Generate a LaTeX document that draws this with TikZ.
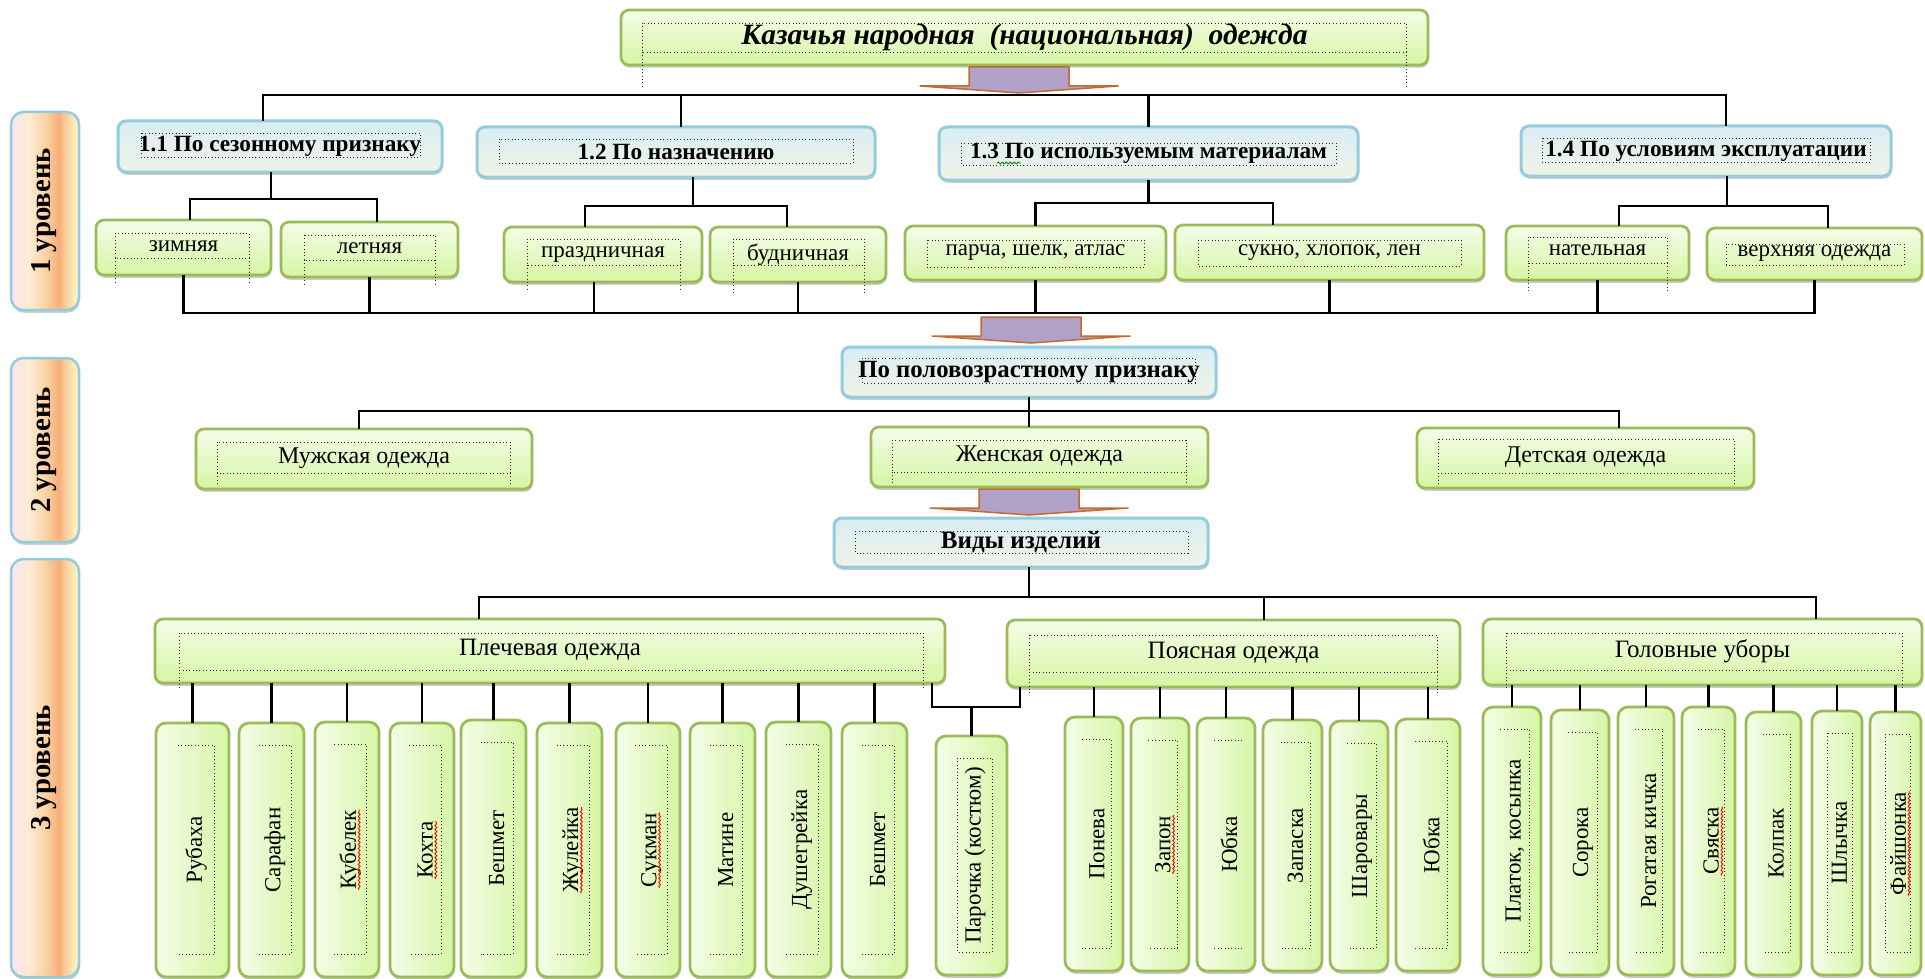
\documentclass[tikz,border=0pt]{standalone}
\usepackage{fontspec}
\setmainfont{Liberation Serif}
\usetikzlibrary{shadows,calc,decorations.pathmorphing}

\definecolor{gborder}{HTML}{9BBB59}
\definecolor{gtop}{HTML}{F4FDE8}
\definecolor{gbot}{HTML}{D6F5A4}
\definecolor{bborder}{HTML}{93CDDD}
\definecolor{btop}{HTML}{D9EDF3}
\definecolor{bbot}{HTML}{F0F3E6}
\definecolor{arfill}{HTML}{B1A0C7}
\definecolor{arline}{HTML}{C46A2C}
\definecolor{lpink}{HTML}{FDE4EC}
\definecolor{lcream}{HTML}{FDEBD6}
\definecolor{lpeach}{HTML}{FBD3A4}
\definecolor{lorange}{HTML}{F8AE78}
\definecolor{lyellow}{HTML}{FEEDBF}

\pgfdeclarehorizontalshading{lvlshade}{100bp}{color(0bp)=(lpink); color(25bp)=(lpink); color(38bp)=(lcream); color(50bp)=(lpeach); color(60bp)=(lorange); color(66bp)=(lpeach); color(72bp)=(lyellow); color(75bp)=(lyellow); color(100bp)=(lyellow)}

\newcommand\fsz[1]{\fontsize{#1pt}{#1pt}\selectfont}

\tikzset{
 shd/.style={drop shadow={shadow xshift=0.3pt, shadow yshift=-1.1pt, fill=black!45, opacity=0.45}},
 gbox/.style={draw=gborder, line width=1.1pt, rounded corners=3.2pt, top color=gtop, bottom color=gbot, shd, inner sep=0pt, outer sep=0pt, font=\fsz{9.2}},
 bbox/.style={draw=bborder, line width=1.2pt, rounded corners=3.2pt, top color=btop, bottom color=bbot, shd, inner sep=0pt, outer sep=0pt, font=\fsz{9.3}\bfseries},
 ibox/.style={draw=gborder, line width=1.1pt, rounded corners=4pt, left color=gtop, right color=gbot, shd, inner sep=0pt, outer sep=0pt},
 lvl/.style={draw=bborder, line width=1pt, rounded corners=5pt, shade, shading=lvlshade, shd, inner sep=0pt, outer sep=0pt},
 lvltxt/.style={rotate=90, font=\fsz{11.5}\bfseries, inner sep=0pt},
 conn/.style={line width=1.1pt, black},
 frm/.style={densely dotted, line width=0.35pt, black!85},
 arr/.style={fill=arfill, draw=arline, line width=0.6pt, line join=round},
 itxt/.style={rotate=90, inner sep=0pt, font=\fsz{9.2}},
 wavy/.style={red, line width=0.35pt, decorate, decoration={snake, amplitude=0.35pt, segment length=1.6pt}},
}

% style, name, x1, y1, x2, y2, text
\newcommand\bx[7]{\node[#1, minimum width={(#5-#3)*0.4pt}, minimum height={(#6-#4)*0.4pt}] (#2) at ({(#3+#5)/2},{(#4+#6)/2}) {#7};}
\newcommand\fra[4]{\draw[frm] (#1,#2) rectangle (#3,#4);}
\newcommand\frx[5]{\draw[frm] (#1,#2) rectangle (#3,#4) (#1,#4) -- (#1,#5) (#3,#4) -- (#3,#5);}
% name, x1, x2, top, bottom, text, frame type
\newcommand\itm[7]{%
 \bx{ibox}{#1}{#2}{#4}{#3}{#5}{}%
 \pgfmathsetmacro\ql{#2+0.3*(#3-#2)}%
 \pgfmathsetmacro\qr{#3-0.2*(#3-#2)}%
 \pgfmathsetmacro\qt{#4+22}%
 \pgfmathsetmacro\qb{#5-23}%
 \pgfmathsetmacro\qc{(\ql+\qr)/2}%
 \ifcase#7 \draw[frm] (\ql,\qt) -- (\qr,\qt) -- (\qr,\qb) -- (\ql,\qb);
 \or \draw[frm] (\ql,\qt) rectangle (\qr,\qb);
 \or \draw[frm] (\ql,\qt) -- (\qr,\qt) (\ql,\qb) -- (\qr,\qb);
 \fi
 \node[itxt] (#1t) at (\qc,{(#4+#5)/2}) {#6};}
\newcommand\wav[1]{\draw[wavy] ([xshift=1.3pt]#1t.base west) -- ([xshift=1.3pt]#1t.base east);}
% name, cx, ytop
\newcommand\barrow[3]{\coordinate (#1) at (#2,#3);
 \draw[arr] ($(#1)+(-50,0)$) -- ++(100,0) -- ++(0,19) -- ++(49,0) -- ($(#1)+(0,26)$) -- ($(#1)+(-99,19)$) -- ++(49,0) -- cycle;}
% parent, bus y, left child, right child
\newcommand\fork[4]{\coordinate (fk) at (0,#2);
 \draw[conn] (#1) -- (#1 |- fk);
 \draw[conn] (#3) -- (#3 |- fk) -- (#4 |- fk) -- (#4);}

\begin{document}
\begin{tikzpicture}[x=0.4pt,y=-0.4pt]
\useasboundingbox (0,0) rectangle (1925,979);
\fill[white] (0,0) rectangle (1925,979);

% level labels
\bx{lvl}{L1}{11}{112}{79}{310}{}
\node[lvltxt] (L1t) at (44,211) {1 уровень};
\bx{lvl}{L2}{11}{358}{79}{542}{}
\node[lvltxt] (L2t) at (44,450) {2 уровень};
\bx{lvl}{L3}{11}{559}{79}{977}{}
\node[lvltxt] (L3t) at (44,768) {3 уровень};

% title
\bx{gbox}{title}{621}{10}{1428}{65}{\raisebox{-1.5pt}{\fsz{11.8}\bfseries\itshape Казачья народная\ \ (национальная)\ \ одежда}}

% level 1 headings
\bx{bbox}{p11}{118}{121}{442}{172}{1.1 По сезонному признаку}
\bx{bbox}{p12}{477}{127}{875}{177}{1.2 По назначению}
\bx{bbox}{p13}{939}{127}{1358}{180}{1.3 По используемым материалам}
\bx{bbox}{p14}{1521}{126}{1891}{176}{1.4 По условиям эксплуатации}

% level 1 children
\bx{gbox}{zim}{96}{220}{271}{275}{\raisebox{1pt}{зимняя}}
\bx{gbox}{let}{281}{222}{458}{277}{\raisebox{1pt}{летняя}}
\bx{gbox}{pra}{504}{227}{702}{282}{\raisebox{1pt}{праздничная}}
\bx{gbox}{bud}{710}{227}{886}{282}{\raisebox{1pt}{будничная}}
\bx{gbox}{parch}{905}{226}{1166}{280}{парча, шелк, атлас}
\bx{gbox}{suk}{1175}{225}{1484}{280}{сукно, хлопок, лен}
\bx{gbox}{nat}{1506}{226}{1689}{280}{\raisebox{2pt}{нательная}}
\bx{gbox}{ver}{1707}{228}{1922}{280}{верхняя одежда}

% level 2
\bx{bbox}{pol}{842}{347}{1216}{397}{\fsz{9.9}\bfseries По половозрастному признаку}
\bx{gbox}{muz}{196}{429}{532}{489}{\raisebox{2.5pt}{\fsz{9.6}Мужская одежда}}
\bx{gbox}{zhen}{871}{427}{1208}{487}{\raisebox{2.5pt}{\fsz{9.6}Женская одежда}}
\bx{gbox}{det}{1417}{428}{1754}{488}{\raisebox{2.5pt}{\fsz{9.6}Детская одежда}}
\bx{bbox}{vid}{834}{518}{1208}{567}{\fsz{10}\bfseries Виды изделий}

% level 3 headers
\bx{gbox}{ple}{155}{619}{945}{683}{\raisebox{2.8pt}{\fsz{10}Плечевая одежда}}
\bx{gbox}{poy}{1007}{620}{1460}{687}{\raisebox{2.8pt}{\fsz{10}Поясная одежда}}
\bx{gbox}{gol}{1483}{619}{1922}{685}{\raisebox{2.8pt}{\fsz{10}Головные уборы}}

% items
\itm{s1}{156}{229}{723}{977}{Рубаха}{0}
\itm{s2}{239}{304}{723}{977}{Сарафан}{0}
\itm{s3}{315}{379}{722}{977}{Кубелек}{0}
\itm{s4}{390}{454}{723}{977}{Кохта}{0}
\itm{s5}{461}{526}{720}{977}{Бешмет}{0}
\itm{s6}{537}{602}{723}{977}{Жулейка}{0}
\itm{s7}{616}{680}{723}{977}{Сукман}{0}
\itm{s8}{690}{755}{723}{977}{Матине}{0}
\itm{s9}{766}{831}{722}{977}{Душегрейка}{0}
\itm{s10}{842}{907}{723}{977}{Бешмет}{0}
\itm{paro}{936}{1007}{736}{975}{Парочка (костюм)}{1}
\itm{b1}{1065}{1123}{717}{971}{Понева}{0}
\itm{b2}{1131}{1189}{718}{971}{Запон}{0}
\itm{b3}{1197}{1255}{718}{971}{Юбка}{2}
\itm{b4}{1263}{1322}{720}{971}{Запаска}{0}
\itm{b5}{1330}{1388}{721}{971}{Шаровары}{0}
\itm{b6}{1396}{1460}{719}{971}{Юбка}{0}
\itm{h1}{1483}{1541}{707}{975}{Платок, косынка}{0}
\itm{h2}{1551}{1609}{710}{975}{Сорока}{0}
\itm{h3}{1618}{1674}{707}{975}{Рогатая кичка}{0}
\itm{h4}{1682}{1735}{707}{975}{Свяска}{0}
\itm{h5}{1746}{1801}{712}{975}{Колпак}{0}
\itm{h6}{1812}{1862}{711}{975}{Шлычка}{1}
\itm{h7}{1870}{1921}{712}{975}{Файшонка}{1}
\foreach \n in {s3,s4,s6,s7,b2,h4,h7} {\wav{\n}}
\draw[wavy, green!55!black] (997,163) -- (1021,163);

% dotted text frames
\frx{642}{23}{1406}{52}{88}
\fra{141}{133}{420}{157}
\fra{499}{139}{853}{163}
\fra{961}{143}{1336}{165}
\fra{1542}{138}{1870}{162}
\frx{115}{233}{249}{258}{285}
\frx{304}{235}{435}{260}{287}
\frx{527}{239}{680}{265}{292}
\frx{733}{239}{864}{265}{293}
\fra{927}{240}{1144}{267}
\fra{1198}{240}{1461}{266}
\frx{1528}{237}{1667}{263}{293}
\fra{1726}{244}{1904}{265}
\fra{862}{358}{1195}{383}
\frx{217}{442}{510}{473}{484}
\frx{892}{440}{1186}{472}{485}
\frx{1438}{439}{1734}{473}{485}
\fra{855}{531}{1188}{553}
\frx{179}{633}{923}{670}{690}
\frx{1029}{635}{1437}{672}{693}
\frx{1506}{633}{1902}{670}{690}

% connectors level 1
\coordinate (bus1) at (0,95);
\coordinate (c11t) at ([xshift=-6.8pt]p11.north);
\coordinate (c14t) at ([xshift=8pt]p14.north);
\draw[conn] (c11t) -- (c11t |- bus1) -- (c14t |- bus1) -- (c14t);
\coordinate (c12t) at ([xshift=2pt]p12.north);
\draw[conn] (c12t) -- (c12t |- bus1);
\draw[conn] (p13.north) -- (p13.north |- bus1);

\coordinate (a11) at ([xshift=-3.6pt]p11.south);
\coordinate (zimT) at ([xshift=2.6pt]zim.north);
\coordinate (letT) at ([xshift=3pt]let.north);
\fork{a11}{199}{zimT}{letT}
\coordinate (a12) at ([xshift=6.8pt]p12.south);
\coordinate (praT) at ([xshift=-7.2pt]pra.north);
\coordinate (budT) at ([xshift=-4.4pt]bud.north);
\fork{a12}{206}{praT}{budT}
\coordinate (sukT) at ([xshift=-22.6pt]suk.north);
\fork{p13.south}{203}{parch.north}{sukT}
\coordinate (a14) at ([xshift=8.4pt]p14.south);
\coordinate (natT) at ([xshift=8.6pt]nat.north);
\coordinate (verT) at ([xshift=5.4pt]ver.north);
\fork{a14}{206}{natT}{verT}

\coordinate (bus2) at (0,313);
\coordinate (praB) at ([xshift=-3.6pt]pra.south);
\draw[conn] (zim.south) -- (zim.south |- bus2) -- (ver.south |- bus2) -- (ver.south);
\foreach \n in {let.south, praB, bud.south, parch.south, suk.south, nat.south} {\draw[conn] (\n) -- (\n |- bus2);}

% level 2
\draw[conn] (pol.south) -- (pol.south |- zhen.north);
\coordinate (bus3) at (0,411);
\coordinate (muzT) at ([xshift=-2pt]muz.north);
\coordinate (detT) at ([xshift=13.4pt]det.north);
\draw[conn] (muzT) -- (muzT |- bus3) -- (detT |- bus3) -- (detT);

% level 3
\coordinate (bus4) at (0,597);
\coordinate (vidB) at ([xshift=3.2pt]vid.south);
\draw[conn] (vidB) -- (vidB |- bus4);
\coordinate (pleT) at ([xshift=-28.4pt]ple.north);
\coordinate (poyT) at ([xshift=12.2pt]poy.north);
\coordinate (golT) at ([xshift=45.4pt]gol.north);
\draw[conn] (pleT) -- (pleT |- bus4) -- (golT |- bus4) -- (golT);
\draw[conn] (poyT) -- (poyT |- bus4);

\foreach \n in {s1,s2,s3,s4,s5,s6,s7,s8,s9,s10} {\draw[conn] (\n.north) -- (\n.north |- ple.south);}
\foreach \n in {b1,b2,b3,b4,b5,b6} {\draw[conn] (\n.north) -- (\n.north |- poy.south);}
\foreach \n in {h1,h2,h3,h4,h5,h6,h7} {\draw[conn] (\n.north) -- (\n.north |- gol.south);}

\coordinate (bus5) at (0,707);
\coordinate (pa) at ([xshift=-5.2pt]ple.south east);
\coordinate (pb) at ([xshift=5.2pt]poy.south west);
\draw[conn] (pa) -- (pa |- bus5) -- (pb |- bus5) -- (pb);
\draw[conn] (paro.north) -- (paro.north |- bus5);

% block arrows
\barrow{ar1}{1019}{67}
\barrow{ar2}{1031}{317}
\barrow{ar3}{1029}{489}
\end{tikzpicture}
\end{document}
